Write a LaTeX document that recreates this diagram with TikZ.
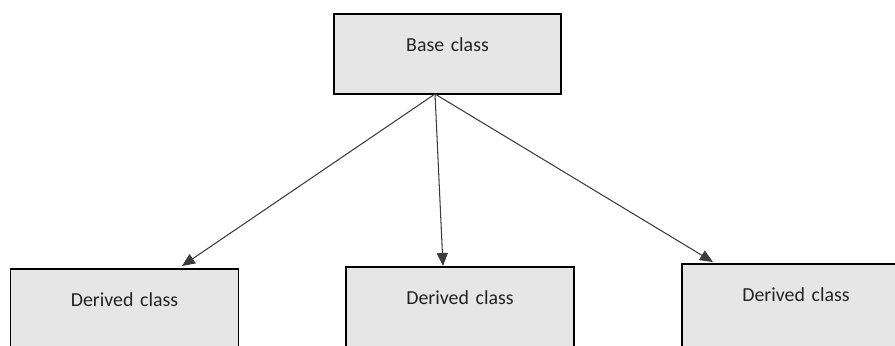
\documentclass[tikz,border=0pt]{standalone}
\usepackage{fontspec}
\setmainfont{Carlito}
\usepackage{xcolor}
\usepackage{tikz}
\usetikzlibrary{arrows.meta,positioning}
\definecolor{boxbg}{RGB}{230,230,230}
\definecolor{boxtext}{RGB}{35,35,35}
\definecolor{linkgray}{RGB}{60,60,60}

\begin{document}
\begin{tikzpicture}[x=0.02cm, y=-0.02cm,
  classbox/.style={draw=black, line width=1pt, fill=boxbg, text=boxtext, align=center,
                   inner sep=0pt, text height=0.74cm, anchor=base, font=\fontsize{11.3}{13}\selectfont},
  basebox/.style={classbox, text width=4.54cm, text depth=0.86cm},
  derivedbox/.style={classbox, text width=4.56cm, text depth=1.2cm},
  arr/.style={-{Triangle[length=2.6mm,width=2.2mm]}, draw=linkgray, line width=0.6pt}]
  \useasboundingbox (0,0) rectangle (895,345);
  \clip (0,0) rectangle (895,345);
  \node[basebox] (base) at (447.5,51) {Base class};
  \node[derivedbox] (dleft) at (124.5,306) {Derived class};
  \node[derivedbox] (dmid) at (460,304) {Derived class};
  \node[derivedbox] (dright) at (796,301) {Derived class};
  \coordinate (src) at (435,94);
  \coordinate (tleft) at (182,266);
  \coordinate (tmid) at (443,266);
  \coordinate (tright) at (713,262);
  \draw[arr] (src) -- (tleft); \draw[arr] (src) -- (tmid); \draw[arr] (src) -- (tright);
\end{tikzpicture}
\end{document}
